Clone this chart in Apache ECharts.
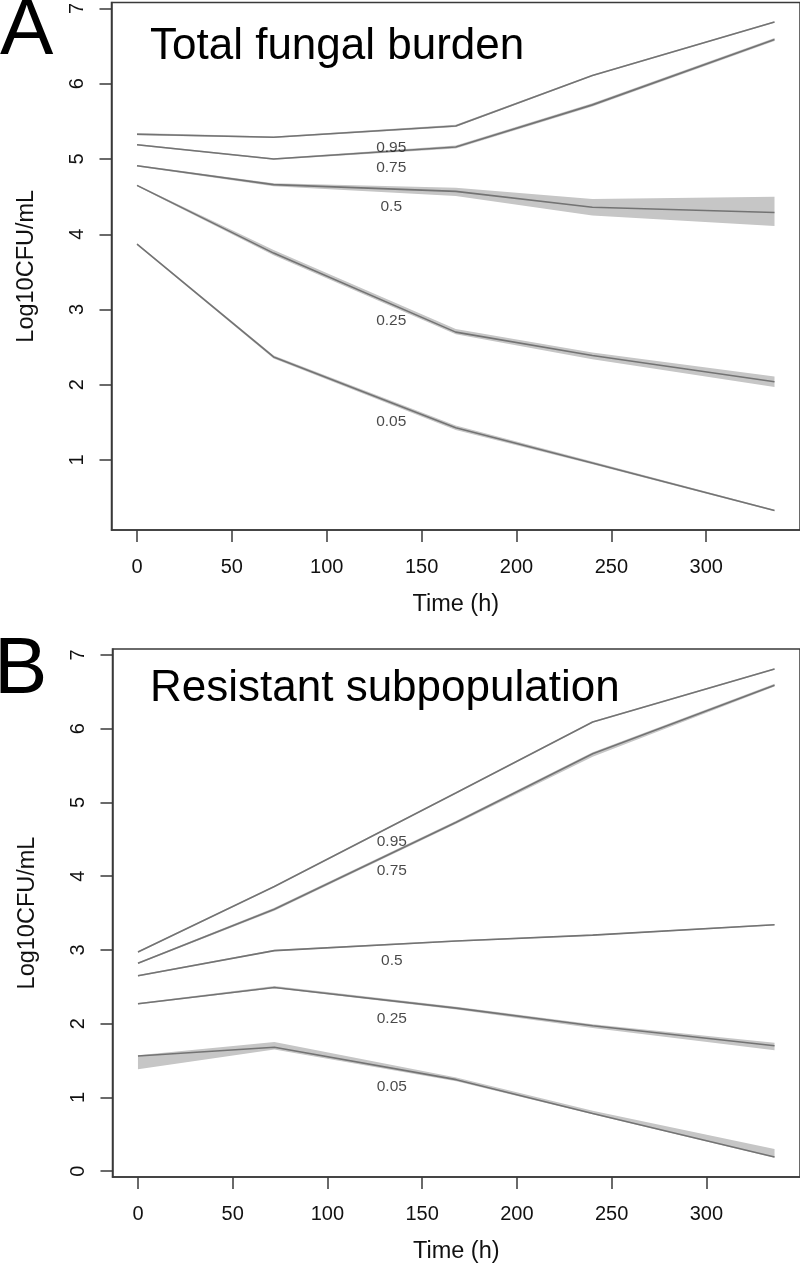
<!DOCTYPE html>
<html>
<head>
<meta charset="utf-8">
<script src="https://cdn.jsdelivr.net/npm/echarts@6.0.0/dist/echarts.min.js"></script>
<style>
html,body{margin:0;padding:0;background:#fff;}
#chart{width:800px;height:1265px;}
</style>
</head>
<body>
<div id="chart"></div>
<script>
// ---- data ----
const times = [0, 72, 168, 240, 336];
const quantileNames = ['0.95', '0.75', '0.5', '0.25', '0.05'];
const xTicks = [0, 50, 100, 150, 200, 250, 300];
const yTicksA = [1, 2, 3, 4, 5, 6, 7];
const yTicksB = [0, 1, 2, 3, 4, 5, 6, 7];

// Panel A: Total fungal burden (median line, lower and upper band)
const a95 = [5.33, 5.29, 5.44, 6.11, 6.82];
const a95lo = [5.315, 5.28, 5.425, 6.10, 6.81];
const a95hi = [5.345, 5.30, 5.455, 6.12, 6.83];
const a75 = [5.19, 5.00, 5.16, 5.72, 6.59];
const a75lo = [5.18, 4.99, 5.14, 5.70, 6.57];
const a75hi = [5.20, 5.01, 5.18, 5.74, 6.61];
const a50 = [4.91, 4.66, 4.57, 4.36, 4.29];
const a50lo = [4.90, 4.64, 4.51, 4.25, 4.11];
const a50hi = [4.92, 4.68, 4.62, 4.47, 4.50];
const a25 = [4.65, 3.75, 2.70, 2.39, 2.04];
const a25lo = [4.64, 3.72, 2.67, 2.34, 1.97];
const a25hi = [4.66, 3.79, 2.74, 2.43, 2.11];
const a05 = [3.87, 2.37, 1.43, 0.96, 0.33];
const a05lo = [3.86, 2.35, 1.40, 0.945, 0.32];
const a05hi = [3.88, 2.39, 1.46, 0.98, 0.34];
const aLabelTime = 134;
const aLabelY = [5.15, 4.88, 4.37, 2.85, 1.51];

// Panel B: Resistant subpopulation
const b95 = [2.97, 3.86, 5.13, 6.09, 6.81];
const b95lo = [2.96, 3.85, 5.12, 6.08, 6.80];
const b95hi = [2.98, 3.87, 5.14, 6.10, 6.82];
const b75 = [2.82, 3.55, 4.73, 5.66, 6.59];
const b75lo = [2.81, 3.53, 4.71, 5.62, 6.57];
const b75hi = [2.83, 3.57, 4.75, 5.68, 6.61];
const b50 = [2.65, 2.99, 3.12, 3.20, 3.34];
const b50lo = [2.64, 2.98, 3.11, 3.19, 3.33];
const b50hi = [2.66, 3.00, 3.13, 3.21, 3.35];
const b25 = [2.27, 2.49, 2.21, 1.97, 1.70];
const b25lo = [2.26, 2.48, 2.19, 1.94, 1.64];
const b25hi = [2.28, 2.51, 2.23, 1.99, 1.74];
const b05 = [1.56, 1.68, 1.24, 0.78, 0.19];
const b05lo = [1.38, 1.65, 1.22, 0.77, 0.18];
const b05hi = [1.57, 1.75, 1.27, 0.82, 0.30];
const bLabelTime = 134;
const bLabelY = [4.46, 4.07, 2.85, 2.06, 1.15];

// ---- build ----
const FONT = 'Liberation Sans, Arial, sans-serif';
const LINE = '#737373';
const BAND = '#c6c6c6';
const AXIS = '#3a3a3a';

const panels = [
  {lines: [a95, a75, a50, a25, a05], lo: [a95lo, a75lo, a50lo, a25lo, a05lo], hi: [a95hi, a75hi, a50hi, a25hi, a05hi], lt: aLabelTime, ly: aLabelY},
  {lines: [b95, b75, b50, b25, b05], lo: [b95lo, b75lo, b50lo, b25lo, b05lo], hi: [b95hi, b75hi, b50hi, b25hi, b05hi], lt: bLabelTime, ly: bLabelY}
];

function xAxisDef(gi) {
  return {
    type: 'value', gridIndex: gi, min: -13.44, max: 349.44,
    name: 'Time (h)', nameLocation: 'middle', nameGap: 63,
    nameTextStyle: {fontFamily: FONT, fontSize: 23.5, color: '#111'},
    axisLine: {show: true, onZero: false, lineStyle: {color: AXIS, width: 1.5}},
    axisTick: {show: true, length: 12, inside: false, customValues: xTicks, lineStyle: {color: AXIS, width: 1.5}},
    axisLabel: {show: true, customValues: xTicks, margin: 27, fontFamily: FONT, fontSize: 20, color: '#111'},
    splitLine: {show: false}
  };
}
function yAxisDef(gi, min, max, ticks) {
  return {
    type: 'value', gridIndex: gi, min: min, max: max,
    name: 'Log10CFU/mL', nameLocation: 'middle', nameGap: 73,
    nameTextStyle: {fontFamily: FONT, fontSize: 23.5, color: '#111'},
    axisLine: {show: true, onZero: false, lineStyle: {color: AXIS, width: 1.5}},
    axisTick: {show: true, length: 12, inside: false, customValues: ticks, lineStyle: {color: AXIS, width: 1.5}},
    axisLabel: {show: true, customValues: ticks, rotate: 90, margin: 24, fontFamily: FONT, fontSize: 20, color: '#111'},
    splitLine: {show: false}
  };
}

const series = [];
panels.forEach((p, gi) => {
  // bands
  series.push({
    type: 'custom', xAxisIndex: gi, yAxisIndex: gi, z: 1, silent: true,
    data: quantileNames.map((n, i) => [i]),
    encode: {x: -1, y: -1},
    renderItem: function (params, api) {
      const k = api.value(0);
      const pts = [];
      times.forEach((t, i) => pts.push(api.coord([t, p.hi[k][i]])));
      for (let i = times.length - 1; i >= 0; i--) pts.push(api.coord([times[i], p.lo[k][i]]));
      return {type: 'polygon', shape: {points: pts}, style: {fill: BAND, stroke: null}};
    }
  });
  // lines
  p.lines.forEach((arr, k) => {
    series.push({
      type: 'line', xAxisIndex: gi, yAxisIndex: gi, z: 3, silent: true,
      symbol: 'none', animation: false,
      data: times.map((t, i) => [t, arr[i]]),
      lineStyle: {color: LINE, width: 1.6}
    });
  });
  // labels
  series.push({
    type: 'scatter', xAxisIndex: gi, yAxisIndex: gi, z: 4, silent: true,
    symbolSize: 0,
    data: quantileNames.map((n, k) => [p.lt, p.ly[k], n]),
    label: {show: true, position: 'inside', formatter: (d) => d.value[2], fontFamily: FONT, fontSize: 15.5, color: '#1a1a1a'}
  });
});

const chart = echarts.init(document.getElementById('chart'), null, {renderer: 'canvas'});
chart.setOption({
  animation: false,
  backgroundColor: '#fff',
  grid: [
    {left: 111.5, top: 1, width: 690, height: 529, show: true, borderColor: AXIS, borderWidth: 1.5, containLabel: false},
    {left: 112.5, top: 649, width: 690, height: 529, show: true, borderColor: AXIS, borderWidth: 1.5, containLabel: false}
  ],
  xAxis: [xAxisDef(0), xAxisDef(1)],
  yAxis: [yAxisDef(0, 0.07, 7.08, yTicksA), yAxisDef(1, -0.08, 7.08, yTicksB)],
  graphic: [
    {type: 'text', left: 0, top: -8, style: {text: 'A', font: '80px Liberation Sans', fill: '#000'}},
    {type: 'text', left: -6, top: 631, style: {text: 'B', font: '80px Liberation Sans', fill: '#000'}},
    {type: 'text', left: 150, top: 25, style: {text: 'Total fungal burden', font: '44px Liberation Sans', fill: '#000'}},
    {type: 'text', left: 150, top: 667, style: {text: 'Resistant subpopulation', font: '44px Liberation Sans', fill: '#000'}}
  ],
  series: series
});
</script>
</body>
</html>
